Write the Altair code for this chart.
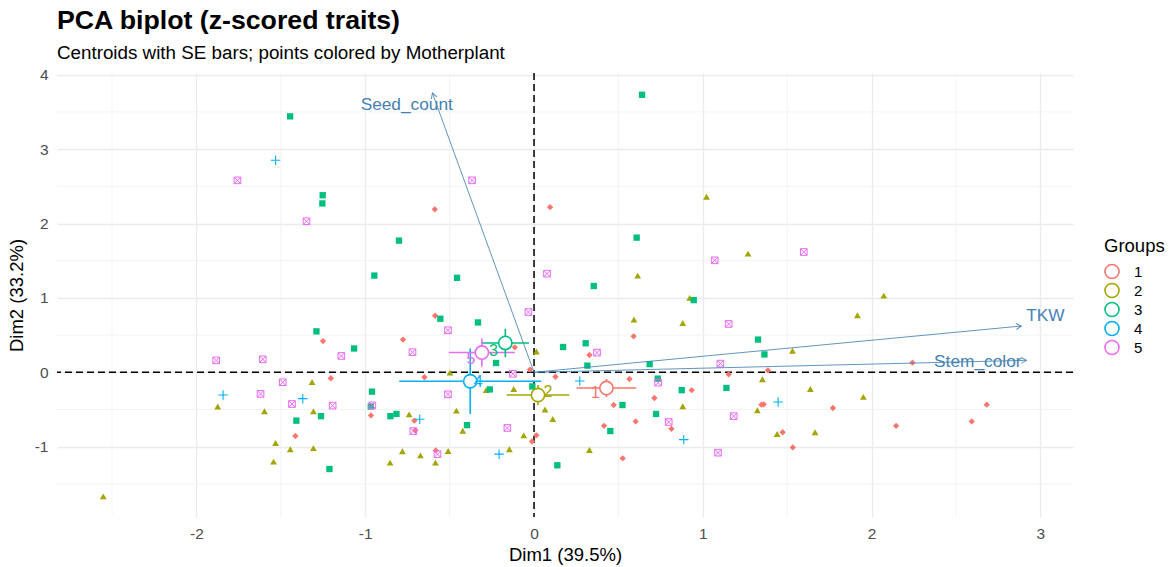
import math

import altair as alt
import pandas as pd

# Individual PCA scores (Dim1, Dim2) per Motherplant group
g1_dim1 = [-0.588, 0.095, -0.586, -1.250, -1.204, -1.414, -0.966, -0.776, -0.649, -0.709,
           -0.703, -0.582, -0.114, -0.024, 0.014, -0.012, 0.127, 0.328, 0.472, 0.415,
           0.525, 0.565, 0.590, 0.602, 0.713, 0.814, 0.934, 1.153, 1.347, 1.361,
           1.386, 2.242, 1.771, 1.473, 1.533, 2.145, 2.593, 2.682]
g1_dim2 = [2.19, 2.22, 0.76, 0.42, -0.08, -0.856, -0.58, 0.44, -0.067, -0.65,
           -0.78, -1.05, 0.336, 0.036, -0.847, -0.93, -0.06, 0.233, -0.44, -0.72,
           -1.156, -0.09, 0.484, -0.66, -0.345, -0.76, -0.24, -0.027, -0.435, -0.43,
           0.027, 0.13, -0.48, -0.806, -1.01, -0.72, -0.66, -0.435]

g2_dim1 = [1.022, 1.268, 0.614, 0.922, 0.592, 2.072, 1.916, 1.531, 1.353, 1.637,
           1.951, 1.440, 1.665, 0.881, 0.014, -0.498, -0.284, -0.120, 0.065, 0.111,
           -0.460, -0.740, -0.422, -0.061, -0.146, -0.509, -0.780, -0.673, -0.853, -0.584,
           0.328, 0.881, 1.323, -1.315, -1.874, -1.597, -1.307, -1.531, -1.444, -1.307,
           -1.543, -2.552]
g2_dim2 = [2.36, 1.595, 1.30, 1.00, 0.71, 1.03, 0.766, 0.29, -0.094, -0.224,
           -0.33, -0.83, -0.806, 0.663, 0.28, -0.004, -0.24, -0.224, -0.50, -0.627,
           -0.515, -0.565, -0.785, -0.847, -1.035, -1.058, -1.062, -1.116, -1.214, -1.214,
           -1.044, -0.457, -0.51, -0.13, -0.46, -0.524, -0.524, -0.95, -1.035, -1.02,
           -1.20, -1.667]

g3_dim1 = [-1.445, -1.252, -1.254, -0.946, -0.800, 0.640, -0.456, 0.608, 0.354, 0.946,
           -0.555, -1.289, -1.066, -1.408, -1.262, -1.212, -0.960, -0.967, -0.851, -0.815,
           -0.332, -0.225, -0.397, -0.262, -0.010, 0.172, 0.306, 0.316, 0.524, 0.452,
           0.138, 0.685, 0.733, 0.723, 0.875, 1.140, 1.327, 1.365]
g3_dim2 = [3.44, 2.38, 2.27, 1.30, 1.77, 3.73, 1.27, 1.81, 1.16, 0.97,
           0.72, 0.55, 0.32, -0.65, -0.59, -1.30, -0.26, -0.46, -0.59, -0.56,
           0.67, 0.125, -0.71, -0.23, -0.19, 0.34, 0.39, 0.09, -0.44, -0.79,
           -1.25, 0.11, -0.085, -0.56, -0.24, -0.21, 0.44, 0.24]

g4_dim1 = [-1.531, -1.842, -1.370, -0.677, -0.207, 0.271, 0.887, 1.446]
g4_dim2 = [2.85, -0.305, -0.354, -0.632, -1.10, -0.117, -0.905, -0.40]

g5_dim1 = [-1.757, -1.348, -0.367, 1.070, 0.077, -0.033, 1.598, -1.883, -1.607, -1.141,
           -1.489, -1.620, -1.434, -1.193, -0.958, -0.510, -0.720, -0.126, -0.510, -0.715,
           -0.572, -0.158, 0.373, 0.735, 0.798, 1.104, 1.183, 1.153, 1.090]
g5_dim2 = [2.58, 2.03, 2.58, 1.505, 1.326, 0.81, 1.617, 0.16, 0.175, 0.22,
           -0.134, -0.29, -0.426, -0.448, -0.444, 0.565, 0.27, -0.02, -0.296, -0.79,
           -1.10, -0.748, 0.265, -0.139, -0.668, 0.117, -0.59, 0.65, -1.08]

groups = ["1", "2", "3", "4", "5"]
group_colors = ["#F8766D", "#A3A500", "#00BF7D", "#00B0F6", "#E76BF3"]

# Variable loadings drawn as arrows, and where their names sit
var_names = ["Seed_count", "TKW", "Stem_color"]
var_dim1 = [-0.602, 2.887, 2.917]
var_dim2 = [3.754, 0.622, 0.161]
var_label_dim1 = [-0.754, 3.030, 2.629]
var_label_dim2 = [3.589, 0.753, 0.138]

# Axis ticks and grid
x_major = [-2, -1, 0, 1, 2, 3]
x_minor = [-2.5, -1.5, -0.5, 0.5, 1.5, 2.5]
y_major = [-1, 0, 1, 2, 3, 4]
y_minor = [-1.5, -0.5, 0.5, 1.5, 2.5, 3.5]

X_DOMAIN = [-2.826, 3.193]
Y_DOMAIN = [-1.945, 4.023]
W, H = 1016, 444
FONT = "Liberation Sans"
ARROW_COLOR = "#4682B4"

# ---- tables -------------------------------------------------------------
xs = [g1_dim1, g2_dim1, g3_dim1, g4_dim1, g5_dim1]
ys = [g1_dim2, g2_dim2, g3_dim2, g4_dim2, g5_dim2]
points = pd.concat(
    [pd.DataFrame({"group": g, "dim1": x, "dim2": y}) for g, x, y in zip(groups, xs, ys)],
    ignore_index=True,
)

stats = points.groupby("group").agg(
    cx=("dim1", "mean"), cy=("dim2", "mean"),
    sdx=("dim1", "std"), sdy=("dim2", "std"), n=("dim1", "count"),
).reset_index()
stats["sex"] = stats["sdx"] / stats["n"] ** 0.5
stats["sey"] = stats["sdy"] / stats["n"] ** 0.5
stats["x_lo"] = stats["cx"] - stats["sex"]
stats["x_hi"] = stats["cx"] + stats["sex"]
stats["y_lo"] = stats["cy"] - stats["sey"]
stats["y_hi"] = stats["cy"] + stats["sey"]

# arrowhead rotation in screen space (degrees clockwise from up)
px_x = W / (X_DOMAIN[1] - X_DOMAIN[0])
px_y = H / (Y_DOMAIN[1] - Y_DOMAIN[0])
arrows = pd.DataFrame({
    "name": var_names, "dim1": var_dim1, "dim2": var_dim2,
    "lx": var_label_dim1, "ly": var_label_dim2,
})
arrows["x0"] = 0.0
arrows["y0"] = 0.0
arrows["ang"] = [
    math.degrees(math.atan2(a * px_x, b * px_y)) % 360 for a, b in zip(var_dim1, var_dim2)
]

# ---- shared scales / axes ----------------------------------------------------
x_scale = alt.Scale(domain=X_DOMAIN, nice=False, zero=False)
y_scale = alt.Scale(domain=Y_DOMAIN, nice=False, zero=False)
x_axis = alt.Axis(
    title="Dim1 (39.5%)", values=x_major, labelExpr="toString(datum.value)",
    grid=True, gridColor="#EBEBEB", gridWidth=1.3, domain=False, ticks=False,
    labelFont=FONT, labelFontSize=15.5, labelColor="#4D4D4D", labelPadding=9,
    titleFont=FONT, titleFontSize=18.5, titleFontWeight="normal", titleColor="#000000",
    titlePadding=4,
)
y_axis = alt.Axis(
    title="Dim2 (33.2%)", values=y_major, labelExpr="toString(datum.value)",
    grid=True, gridColor="#EBEBEB", gridWidth=1.3, domain=False, ticks=False,
    labelFont=FONT, labelFontSize=15.5, labelColor="#4D4D4D", labelPadding=9,
    titleFont=FONT, titleFontSize=18.5, titleFontWeight="normal", titleColor="#000000",
    titlePadding=8,
)


def X(field):
    return alt.X(field, type="quantitative", scale=x_scale, axis=x_axis)


def Y(field):
    return alt.Y(field, type="quantitative", scale=y_scale, axis=y_axis)


# one colour scale and legend for every centroid element
color_scale = alt.Scale(domain=groups, range=group_colors)
group_legend = alt.Legend(
    title="Groups", orient="none", legendX=1047, legendY=164,
    symbolType="circle", symbolSize=196, symbolStrokeWidth=1.6,
    symbolFillColor="white", titleFont=FONT, titleFontSize=18.5,
    titleFontWeight="normal", titleColor="#000000", labelFont=FONT,
    labelFontSize=15, labelColor="#000000", rowPadding=-3.4,
    labelOffset=14, titlePadding=8,
)


def group_stroke():
    return alt.Stroke("group:N", scale=color_scale, legend=group_legend)


# ---- grid and reference lines --------------------------------------------------
minor_v = alt.Chart(pd.DataFrame({"v": x_minor})).mark_rule(
    color="#F2F2F2", strokeWidth=0.9
).encode(x=X("v"))
minor_h = alt.Chart(pd.DataFrame({"v": y_minor})).mark_rule(
    color="#F2F2F2", strokeWidth=0.9
).encode(y=Y("v"))

zero = pd.DataFrame({"v": [0.0]})
zero_v = alt.Chart(zero).mark_rule(color="black", strokeWidth=1.5, strokeDash=[7, 4]).encode(x=X("v"))
zero_h = alt.Chart(zero).mark_rule(color="black", strokeWidth=1.5, strokeDash=[7, 4]).encode(y=Y("v"))

# ---- variable arrows -----------------------------------------------------------
arrow_lines = alt.Chart(arrows).mark_rule(color=ARROW_COLOR, strokeWidth=1, opacity=0.85).encode(
    x=X("x0"), y=Y("y0"), x2="dim1", y2="dim2"
)
arrow_heads = alt.Chart(arrows).mark_point(
    shape="M-0.5,0.866L0,0L0.5,0.866", size=144, filled=False,
    color=ARROW_COLOR, strokeWidth=1, opacity=0.85,
).encode(x=X("dim1"), y=Y("dim2"), angle=alt.Angle("ang:Q", scale=None))
arrow_text = alt.Chart(arrows).mark_text(
    font=FONT, fontSize=17.3, color=ARROW_COLOR, align="center", baseline="middle"
).encode(x=X("lx"), y=Y("ly"), text="name:N")

# ---- individuals ---------------------------------------------------------------
point_styles = {
    "1": dict(shape="diamond", size=40, filled=True),
    "2": dict(shape="triangle-up", size=46, filled=True),
    "3": dict(shape="square", size=40, filled=True),
    "4": dict(shape="M-1,0L1,0M0,-1L0,1", size=90, filled=False, strokeWidth=1.1),
    "5": dict(shape="M-1,-1L1,-1L1,1L-1,1ZM-1,-1L1,1M1,-1L-1,1", size=44, filled=False,
              strokeWidth=1.0),
}
point_layers = []
for g, col in zip(groups, group_colors):
    point_layers.append(
        alt.Chart(points).transform_filter(alt.datum.group == g).mark_point(
            color=col, opacity=1, **point_styles[g]
        ).encode(x=X("dim1"), y=Y("dim2"))
    )

# ---- centroids with SE bars ------------------------------------------------------
se_h = alt.Chart(stats).mark_rule(strokeWidth=1.6).encode(
    x=X("x_lo"), x2="x_hi", y=Y("cy"), stroke=group_stroke(),
)
se_v = alt.Chart(stats).mark_rule(strokeWidth=1.6).encode(
    x=X("cx"), y=Y("y_lo"), y2="y_hi", stroke=group_stroke(),
)
centroids = alt.Chart(stats).mark_point(
    shape="circle", size=177, filled=False, fill="white", fillOpacity=1,
    strokeWidth=1.6, opacity=1,
).encode(x=X("cx"), y=Y("cy"), stroke=group_stroke())

# centroid labels, nudged off their circles
label_nudge = {"1": (-11, 5), "2": (10, -3), "3": (-12, 8), "4": (8, 1), "5": (-11, 6.5)}
label_layers = []
for g, col in zip(groups, group_colors):
    dx, dy = label_nudge[g]
    label_layers.append(
        alt.Chart(stats).transform_filter(alt.datum.group == g).mark_text(
            font=FONT, fontSize=16, color=col, dx=dx, dy=dy,
            align="center", baseline="middle",
        ).encode(x=X("cx"), y=Y("cy"), text="group:N")
    )

chart = alt.layer(
    minor_v, minor_h, zero_v, zero_h,
    *point_layers,
    arrow_lines, arrow_heads, arrow_text,
    se_h, se_v, centroids, *label_layers,
).properties(
    width=W, height=H,
    autosize=alt.AutoSizeParams(type="none"),
    padding={"left": 57, "top": 73, "right": 100, "bottom": 50},
    background="white",
    title=alt.TitleParams(
        text="PCA biplot (z-scored traits)",
        subtitle="Centroids with SE bars; points colored by Motherplant",
        anchor="start", frame="group", font=FONT, fontSize=26.7, fontWeight="bold",
        color="#000000", subtitleFont=FONT, subtitleFontSize=18.8,
        subtitleColor="#000000", subtitlePadding=9, offset=5,
    ),
).configure_view(stroke=None)

chart.save("out.html", embed_options={"renderer": "svg", "actions": False})
